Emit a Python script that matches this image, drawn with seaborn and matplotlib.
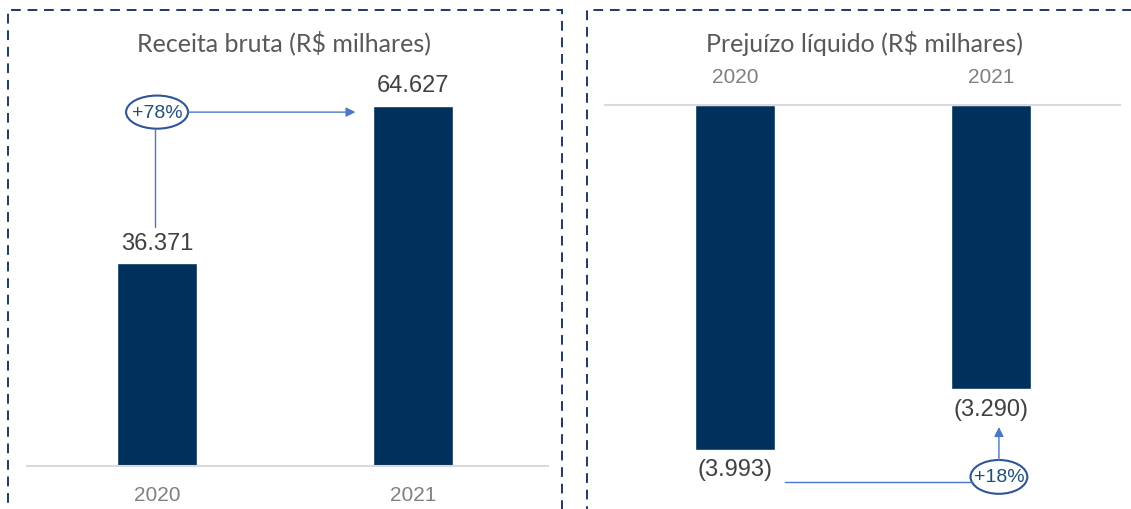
import matplotlib
matplotlib.use("Agg")
import matplotlib.pyplot as plt
import seaborn as sns
import pandas as pd
from matplotlib.patches import Ellipse, Rectangle

sns.set_style("white")

# %% Data

years = ["2020", "2021"]
receita = [36371, 64627]
prejuizo = [-3993, -3290]
receita_growth = "+78%"
prejuizo_growth = "+18%"

bar_color = "#00315C"
line_color = "#4A78C8"
ring_color = "#2F5597"
pct_color = "#1F4E79"
frame_color = "#1F3864"


def fmt(v):
    s = f"{abs(v):,}".replace(",", ".")
    return f"({s})" if v < 0 else s


W, H = 1131, 510
fig = plt.figure(figsize=(W / 100, H / 100), dpi=100)


def px_axes(x0, y_top, x1, y_bot):
    return fig.add_axes([x0 / W, 1 - y_bot / H, (x1 - x0) / W, (y_bot - y_top) / H])


# dashed panel frames
for x0, x1 in [(8, 562), (587, 1140)]:
    fig.patches.append(Rectangle((x0 / W, -0.05), (x1 - x0) / W, 1.05 - 11 / H,
                                 transform=fig.transFigure, fill=False,
                                 edgecolor=frame_color, lw=1.4,
                                 linestyle=(0, (5, 3.5))))

# %% Left panel: Receita bruta

df_r = pd.DataFrame({"Ano": years, "Valor": receita})
ax1 = px_axes(27, 21, 548, 467)
sns.barplot(data=df_r, x="Ano", y="Valor", color=bar_color, width=0.3125,
            saturation=1, ax=ax1)
ax1.set_xlim(-0.508, 1.527)
ax1.set_ylim(0, max(receita) * 446 / 360)
ax1.set_xlabel("")
ax1.set_ylabel("")
ax1.set_yticks([])
sns.despine(ax=ax1, left=True)
ax1.spines["bottom"].set_color("#d9d9d9")
ax1.spines["bottom"].set_linewidth(1.5)
ax1.tick_params(axis="x", length=0, pad=14, labelsize=15, labelcolor="#808080")
for lab in ax1.get_xticklabels():
    lab.set_fontfamily("Liberation Sans")
for i, v in enumerate(receita):
    ax1.annotate(fmt(v), (i, v), xytext=(0, 15), textcoords="offset points",
                 ha="center", va="center", fontsize=17, color="#404040",
                 family="Liberation Sans")
ax1.patch.set_alpha(0)

top = max(receita)
ax1.add_patch(Ellipse((0, top * 0.983), 0.242, top * 0.092, fill=False,
                      edgecolor=ring_color, lw=1.5, clip_on=False))
ax1.text(0, top * 0.983, receita_growth, ha="center", va="center",
         fontsize=14, color=pct_color, family="Liberation Sans")
ax1.annotate("", xy=(0.775, top * 0.983), xytext=(0.121, top * 0.983),
             arrowprops=dict(arrowstyle="-|>", color=line_color, lw=1,
                             mutation_scale=14, shrinkA=0, shrinkB=0))
ax1.plot([-0.008, -0.008], [top * 0.937, receita[0] * 1.18], color=line_color, lw=1)

fig.text(284 / W, 1 - 43 / H, "Receita bruta (R$ milhares)", ha="center",
         va="center", fontsize=18, color="#595959", family="Lato")

# %% Right panel: Prejuízo líquido

df_p = pd.DataFrame({"Ano": years, "Valor": prejuizo})
ax2 = px_axes(605, 106, 1120, 500)
sns.barplot(data=df_p, x="Ano", y="Valor", color=bar_color, width=0.3125,
            saturation=1, ax=ax2)
low = min(prejuizo)
ax2.set_xlim(-0.508, 1.504)
ax2.set_ylim(low * 394 / 345, 0)
ax2.set_xlabel("")
ax2.set_ylabel("")
ax2.set_yticks([])
sns.despine(ax=ax2, left=True, bottom=True, top=False)
ax2.spines["top"].set_color("#d9d9d9")
ax2.spines["top"].set_linewidth(1.5)
ax2.xaxis.tick_top()
ax2.tick_params(axis="x", length=0, pad=14, labelsize=15, labelcolor="#808080")
for lab in ax2.get_xticklabels():
    lab.set_fontfamily("Liberation Sans")
for i, v in enumerate(prejuizo):
    ax2.annotate(fmt(v), (i, v), xytext=(0, -14), textcoords="offset points",
                 ha="center", va="center", fontsize=17, color="#404040",
                 family="Liberation Sans")
ax2.patch.set_alpha(0)

ell_y = low * 1.078
ax2.add_patch(Ellipse((1.031, ell_y), 0.222, -low * 0.098, fill=False,
                      edgecolor=ring_color, lw=1.5, clip_on=False))
ax2.text(1.031, ell_y, prejuizo_growth, ha="center", va="center",
         fontsize=14, color=pct_color, family="Liberation Sans")
ax2.plot([0.195, 0.92], [low * 1.093, low * 1.093], color=line_color, lw=1)
ax2.annotate("", xy=(1.031, prejuizo[1] * 1.133), xytext=(1.031, low * 1.03),
             arrowprops=dict(arrowstyle="-|>", color=line_color, lw=1,
                             mutation_scale=14, shrinkA=0, shrinkB=0))

fig.text(865 / W, 1 - 43 / H, "Prejuízo líquido (R$ milhares)", ha="center",
         va="center", fontsize=18, color="#595959", family="Lato")

fig.savefig("out.png", dpi=100)
